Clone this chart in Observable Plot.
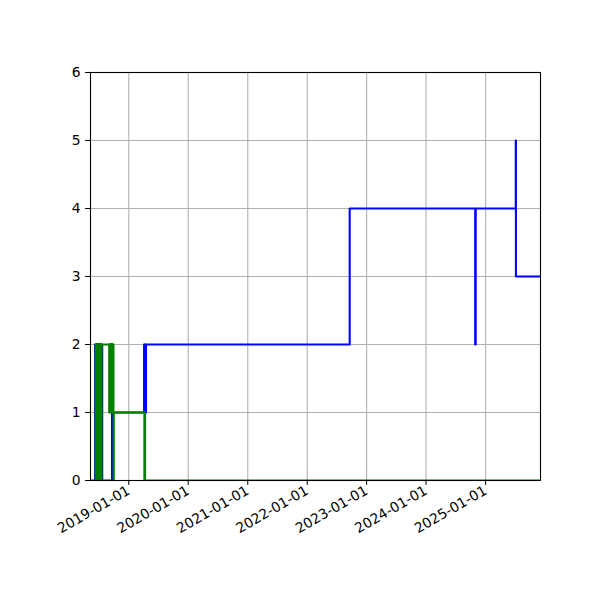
<!DOCTYPE html>
<html>
<head>
<meta charset="utf-8">
<script src="https://cdn.jsdelivr.net/npm/d3@7"></script>
<script src="https://cdn.jsdelivr.net/npm/@observablehq/plot@0.6"></script>
<style>
  html, body { margin: 0; padding: 0; background: white; }
  #chart { width: 600px; height: 600px; }
</style>
</head>
<body>
<div id="chart"></div>
<script>
// Axis extent and ticks
const xStart = "2018-05-11";
const xEnd = "2025-12-04";
const yearTicks = ["2019-01-01","2020-01-01","2021-01-01","2022-01-01","2023-01-01","2024-01-01","2025-01-01"];
const yTicks = [0, 1, 2, 3, 4, 5, 6];

// Blue series (step-after)
const blueDates = [
  "2018-05-11","2018-06-08","2018-07-22","2018-09-20",
  "2019-04-05","2019-04-07","2019-04-09","2019-04-11","2019-04-13","2019-04-15","2019-04-17",
  "2022-09-19","2024-10-29","2024-11-01","2025-07-05","2025-07-06","2025-12-04"
];
const blueValues = [
  0, 2, 0, 1,
  2, 1, 2, 1, 2, 1, 2,
  4, 2, 4, 5, 3, 3
];

// Green series (step-after)
const greenDates = [
  "2018-06-10","2018-06-11","2018-06-12","2018-06-13","2018-06-14","2018-06-15",
  "2018-06-16","2018-06-17","2018-06-18","2018-06-19","2018-06-20","2018-06-21",
  "2018-06-22","2018-06-23","2018-06-24","2018-06-25","2018-06-26","2018-06-27",
  "2018-06-28","2018-06-29","2018-06-30","2018-07-01","2018-07-02","2018-07-03",
  "2018-07-04","2018-07-05","2018-07-06","2018-07-07","2018-07-08","2018-07-09",
  "2018-07-10","2018-07-11","2018-07-12","2018-07-13","2018-07-14","2018-07-15",
  "2018-07-16","2018-07-17","2018-07-18",
  "2018-09-03","2018-09-04","2018-09-05","2018-09-06","2018-09-07","2018-09-08",
  "2018-09-09","2018-09-10","2018-09-11","2018-09-12","2018-09-13","2018-09-14",
  "2018-09-15","2018-09-16","2018-09-17","2018-09-18","2018-09-19","2018-09-20",
  "2018-09-21","2018-09-22","2018-09-23","2018-09-24","2018-09-25","2018-09-26",
  "2018-09-27","2018-09-28","2018-09-29","2018-09-30","2018-10-01",
  "2019-04-07","2019-04-09","2019-04-11","2019-04-13","2025-12-04"
];
const greenValues = [
  2, 0, 2, 0, 2, 0,
  2, 0, 2, 0, 2, 0,
  2, 0, 2, 0, 2, 0,
  2, 0, 2, 0, 2, 0,
  2, 0, 2, 0, 2, 0,
  2, 0, 2, 0, 2, 0,
  2, 0, 2,
  1, 2, 1, 2, 1, 2,
  1, 2, 1, 2, 1, 2,
  1, 2, 1, 2, 1, 2,
  1, 2, 1, 2, 1, 2,
  1, 2, 1, 0, 1,
  0, 1, 0, 0, 0
];

const parse = d3.utcParse("%Y-%m-%d");
const blue = blueDates.map((d, i) => ({date: parse(d), value: blueValues[i]}));
const green = greenDates.map((d, i) => ({date: parse(d), value: greenValues[i]}));
const xTickDates = yearTicks.map(parse);

const chart = Plot.plot({
  width: 600,
  height: 600,
  marginLeft: 90,
  marginRight: 60,
  marginTop: 72,
  marginBottom: 120,
  style: {fontFamily: "DejaVu Sans", fontSize: "13.9px", background: "white", color: "black"},
  x: {type: "utc", domain: [parse(xStart), parse(xEnd)]},
  y: {domain: [0, 6]},
  marks: [
    Plot.gridX(xTickDates, {stroke: "#b0b0b0", strokeOpacity: 1, strokeWidth: 1.1}),
    Plot.gridY(yTicks, {stroke: "#b0b0b0", strokeOpacity: 1, strokeWidth: 1.1}),
    Plot.line(blue, {x: "date", y: "value", curve: "step-after", stroke: "blue", strokeWidth: 2.08, clip: true}),
    Plot.line(green, {x: "date", y: "value", curve: "step-after", stroke: "green", strokeWidth: 2.08, clip: true}),
    Plot.frame({stroke: "black", strokeWidth: 1.1}),
    Plot.axisX(xTickDates, {tickFormat: d3.utcFormat("%Y-%m-%d"), tickRotate: -30, tickSize: 4.9, tickPadding: 4, label: null, stroke: "black", fill: "black"}),
    Plot.axisY(yTicks, {tickFormat: d3.format("d"), tickSize: 4.9, tickPadding: 4.9, label: null, stroke: "black", fill: "black"})
  ]
});
document.getElementById("chart").appendChild(chart);
</script>
</body>
</html>
